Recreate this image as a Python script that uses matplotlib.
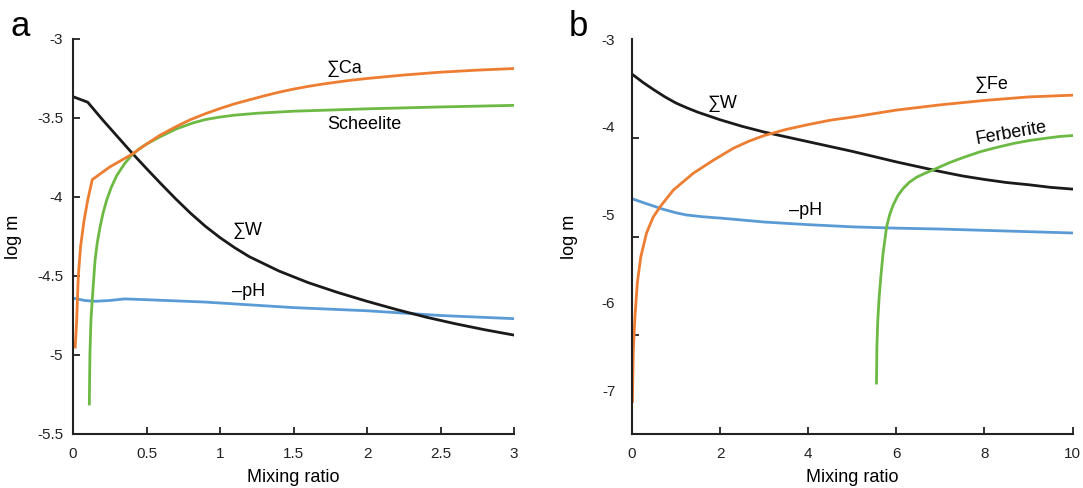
# two-panel mixing model: log m vs mixing ratio
import numpy as np
import matplotlib
matplotlib.use("Agg")
import matplotlib.pyplot as plt

plt.rcParams['font.family'] = ['Liberation Sans', 'DejaVu Sans']
plt.rcParams['axes.unicode_minus'] = False

# ---- panel a (scheelite) ----
sumw_a_x = [0, 0.1, 0.2, 0.3, 0.4, 0.5, 0.6, 0.7, 0.8, 0.9, 1.0, 1.1, 1.2, 1.4, 1.6, 1.8, 2.0, 2.2, 2.4, 2.6,
            2.8, 3.0]
sumw_a_y = [-3.365, -3.40, -3.51, -3.615, -3.72, -3.82, -3.918, -4.013, -4.103, -4.185, -4.257, -4.321, -4.378,
            -4.468, -4.542, -4.604, -4.66, -4.712, -4.76, -4.802, -4.84, -4.874]

sumca_x = [0.015, 0.02, 0.025, 0.036, 0.052, 0.075, 0.1, 0.131, 0.25, 0.4, 0.5, 0.59, 0.7, 0.8, 0.9, 1.0, 1.1,
           1.2, 1.3, 1.4, 1.5, 1.6, 1.7, 1.8, 1.9, 2.0, 2.25, 2.5, 2.75, 3.0]
sumca_y = [-4.95, -4.87, -4.78, -4.50, -4.31, -4.15, -4.02, -3.89, -3.81, -3.73, -3.665, -3.61, -3.555, -3.51,
           -3.473, -3.44, -3.41, -3.385, -3.36, -3.337, -3.317, -3.30, -3.285, -3.272, -3.26, -3.25, -3.228,
           -3.21, -3.197, -3.187]

scheel_x = [0.111, 0.115, 0.122, 0.131, 0.14, 0.15, 0.165, 0.184, 0.205, 0.229, 0.26, 0.297, 0.35, 0.4, 0.45,
            0.5, 0.59, 0.7, 0.82, 0.9, 1.0, 1.1, 1.25, 1.5, 2.0, 2.5, 3.0]
scheel_y = [-5.31, -5.0, -4.78, -4.65, -4.53, -4.40, -4.29, -4.19, -4.10, -4.02, -3.94, -3.865, -3.79, -3.735,
            -3.695, -3.665, -3.62, -3.57, -3.53, -3.51, -3.494, -3.482, -3.47, -3.457, -3.442, -3.43, -3.42]

ph_a_x = [0, 0.08, 0.15, 0.25, 0.35, 0.5, 0.9, 1.5, 2.0, 2.5, 3.0]
ph_a_y = [-4.64, -4.655, -4.66, -4.655, -4.645, -4.65, -4.665, -4.70, -4.72, -4.75, -4.77]

# ---- panel b (ferberite) ----
sumw_b_x = [0, 0.25, 0.5, 0.75, 1.0, 1.25, 1.5, 2.0, 2.5, 3, 3.5, 4, 4.5, 5, 5.5, 6, 6.5, 7, 7.5, 8, 8.5, 9,
            9.5, 10]
sumw_b_y = [-3.40, -3.495, -3.58, -3.66, -3.73, -3.785, -3.835, -3.92, -3.995, -4.06, -4.115, -4.17, -4.225,
            -4.28, -4.34, -4.40, -4.455, -4.51, -4.56, -4.60, -4.635, -4.66, -4.69, -4.71]

sumfe_x = [0.01, 0.02, 0.03, 0.068, 0.12, 0.2, 0.33, 0.48, 0.64, 0.94, 1.39, 1.85, 2.3, 2.65, 3, 3.5, 4, 4.5,
           5, 5.5, 6, 6.5, 7, 7.5, 8, 8.5, 9, 9.5, 10]
sumfe_y = [-7.13, -6.8, -6.54, -6.16, -5.78, -5.48, -5.21, -5.03, -4.91, -4.72, -4.53, -4.38, -4.245, -4.165,
           -4.10, -4.03, -3.975, -3.925, -3.89, -3.85, -3.81, -3.78, -3.75, -3.725, -3.70, -3.68, -3.66, -3.65,
           -3.64]

ferb_x = [5.55, 5.56, 5.58, 5.61, 5.65, 5.70, 5.78, 5.85, 5.93, 6.04, 6.16, 6.3, 6.46, 6.65, 6.84, 7.2, 7.52,
          7.9, 8.28, 8.66, 9.04, 9.4, 9.72, 10]
ferb_y = [-6.92, -6.5, -6.2, -5.95, -5.7, -5.44, -5.14, -5.0, -4.89, -4.78, -4.70, -4.63, -4.575, -4.53, -4.49,
          -4.41, -4.35, -4.285, -4.235, -4.19, -4.155, -4.13, -4.11, -4.10]

ph_b_x = [0, 0.35, 0.71, 1.0, 1.24, 1.6, 2.0, 2.45, 3, 4, 5, 6, 7, 8, 9, 10]
ph_b_y = [-4.82, -4.88, -4.94, -4.98, -5.005, -5.025, -5.04, -5.06, -5.085, -5.115, -5.14, -5.155, -5.165,
          -5.18, -5.195, -5.21]

xticks_a = [0, 0.5, 1, 1.5, 2, 2.5, 3]
yticks_a = [-5.5, -5, -4.5, -4, -3.5, -3]
xticks_b = [0, 2, 4, 6, 8, 10]
yticks_b = [-7, -6, -5, -4, -3]

c_black = '#1a1a1a'
c_orange = '#ed7d31'
c_green = '#6cb944'
c_blue = '#5b9bd5'
lw = 2.0

W, H = 1083, 488
fig = plt.figure(figsize=(W / 100, H / 100), dpi=100)
ax_a = fig.add_axes([73 / W, 1 - 434 / H, 441 / W, 395 / H])
ax_b = fig.add_axes([632 / W, 1 - 434 / H, 440.5 / W, 395 / H])

def style(ax):
    for s in ['top', 'right']:
        ax.spines[s].set_visible(False)
    for s in ['left', 'bottom']:
        ax.spines[s].set_linewidth(1.5)
        ax.spines[s].set_color('#222222')
    ax.tick_params(direction='in', length=5, width=1.3, labelsize=11, colors='#222222')
    ax.tick_params(axis='x', pad=9)
    ax.tick_params(axis='y', pad=7)
    ax.set_ylabel('log m', fontsize=13)
    ax.set_xlabel('Mixing ratio', fontsize=13)

# panel a
ax = ax_a
ax.plot(ph_a_x, ph_a_y, color=c_blue, lw=lw)
ax.plot(sumw_a_x, sumw_a_y, color=c_black, lw=lw)
ax.plot(scheel_x, scheel_y, color=c_green, lw=lw)
ax.plot(sumca_x, sumca_y, color=c_orange, lw=lw)
ax.set_xlim(0, 3)
ax.set_ylim(-5.5, -3)
ax.set_xticks(xticks_a)
ax.set_xticklabels([f'{v:g}' for v in xticks_a])
ax.set_yticks(yticks_a)
ax.set_yticklabels([f'{v:g}' for v in yticks_a])
style(ax)
ax.yaxis.set_label_coords(-0.116, 0.5)
ax.xaxis.set_label_coords(0.5, -0.088)
ax.text(1.85, -3.185, '∑Ca', fontsize=13, ha='center', va='center')
ax.text(1.98, -3.54, 'Scheelite', fontsize=13, ha='center', va='center')
ax.text(1.19, -4.21, '∑W', fontsize=13, ha='center', va='center')
ax.text(1.195, -4.60, '–pH', fontsize=13, ha='center', va='center')

# panel b
ax = ax_b
ax.plot(ph_b_x, ph_b_y, color=c_blue, lw=lw)
ax.plot(sumw_b_x, sumw_b_y, color=c_black, lw=lw)
ax.plot(ferb_x, ferb_y, color=c_green, lw=lw)
ax.plot(sumfe_x, sumfe_y, color=c_orange, lw=lw)
ax.set_xlim(0, 10)
ax.set_ylim(-7.5, -3)
ax.set_xticks(xticks_b)
ax.set_xticklabels([f'{v:g}' for v in xticks_b])
style(ax)
# labels on integers, tick marks split the axis in four
ax.set_yticks(yticks_b)
ax.set_yticklabels([f'{v:g}' for v in yticks_b])
ax.tick_params(axis='y', which='major', length=0, pad=12)
ax.set_yticks(np.linspace(-7.5, -3, 5), minor=True)
ax.tick_params(axis='y', which='minor', direction='in', length=5, width=1.3, colors='#222222')
ax.yaxis.set_label_coords(-0.123, 0.5)
ax.xaxis.set_label_coords(0.5, -0.088)
ax.text(2.05, -3.74, '∑W', fontsize=13, ha='center', va='center')
ax.text(8.17, -3.52, '∑Fe', fontsize=13, ha='center', va='center')
ax.text(8.6, -4.07, 'Ferberite', fontsize=13, ha='center', va='center', rotation=10)
ax.text(3.94, -4.95, '–pH', fontsize=13, ha='center', va='center')

fig.text(20 / W, 1 - 26 / H, 'a', fontsize=25, ha='center', va='center')
fig.text(578 / W, 1 - 26 / H, 'b', fontsize=25, ha='center', va='center')

fig.savefig('out.png', dpi=100)
